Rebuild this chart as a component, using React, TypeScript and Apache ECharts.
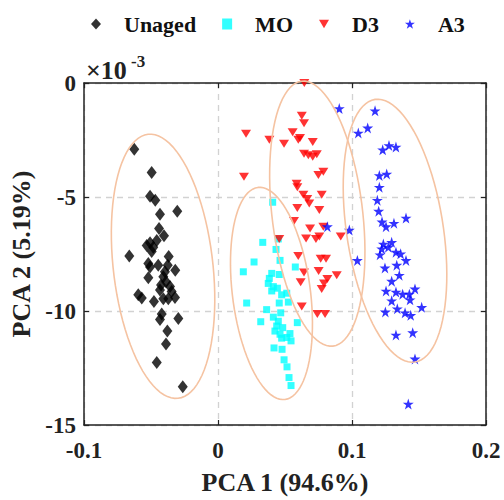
import React, { useEffect, useRef } from "react";
import * as echarts from "echarts";

// PCA scores (PCA 2 in units of 1e-3)
const unagedX = [-0.0625, -0.0495, -0.0507, -0.0468, -0.0304, -0.0433, -0.044, -0.0403, -0.0457, -0.0507, -0.0483, -0.0532, -0.0662, -0.0495, -0.0368, -0.052, -0.0446, -0.0375, -0.0507, -0.0319, -0.0396, -0.052, -0.0408, -0.0388, -0.0425, -0.0358, -0.0433, -0.0346, -0.0595, -0.0569, -0.0478, -0.0408, -0.0371, -0.0321, -0.042, -0.0433, -0.0296, -0.0378, -0.0388, -0.0457, -0.0263];
const unagedY = [-2.91, -3.93, -4.97, -5.14, -5.63, -5.76, -6.38, -6.7, -6.91, -7.01, -7.2, -7.13, -7.59, -7.39, -7.61, -7.92, -7.99, -7.99, -8.07, -8.21, -8.28, -8.54, -8.5, -8.72, -8.86, -8.93, -9.08, -9.15, -9.29, -9.43, -9.58, -9.46, -9.46, -9.41, -10.13, -10.37, -10.33, -10.88, -11.45, -12.26, -13.32];

const moX = [0.0408, 0.0334, 0.045, 0.0433, 0.0269, 0.0463, 0.0189, 0.0577, 0.0401, 0.0383, 0.0457, 0.0375, 0.0413, 0.0443, 0.0401, 0.0513, 0.0475, 0.0214, 0.0457, 0.0525, 0.0363, 0.0468, 0.0413, 0.0319, 0.045, 0.0592, 0.0438, 0.0483, 0.0425, 0.0463, 0.0537, 0.0513, 0.0475, 0.0545, 0.0418, 0.0478, 0.0493, 0.0515, 0.053, 0.0545];
const moY = [-5.23, -6.99, -6.84, -7.3, -7.85, -7.78, -8.28, -8.07, -8.35, -8.57, -8.4, -8.79, -8.93, -9.0, -9.12, -9.22, -9.29, -9.65, -9.65, -9.61, -9.94, -10.08, -10.27, -10.47, -10.45, -10.51, -10.66, -10.73, -10.88, -11.02, -10.99, -11.16, -11.19, -11.31, -11.62, -11.68, -12.14, -12.45, -12.92, -13.27];

const d3X = [0.0644, 0.0625, 0.0642, 0.0209, 0.0383, 0.0493, 0.0557, 0.0612, 0.0599, 0.0707, 0.0642, 0.0674, 0.0707, 0.0737, 0.0786, 0.0749, 0.0194, 0.0587, 0.0592, 0.0637, 0.0666, 0.0774, 0.0681, 0.0592, 0.0756, 0.0567, 0.0687, 0.0786, 0.0657, 0.0731, 0.0756, 0.0916, 0.0457, 0.0599, 0.0766, 0.0806, 0.0642, 0.0751, 0.0816, 0.0886, 0.0617, 0.0791, 0.0774, 0.0625, 0.0741, 0.0799];
const d3Y = [0.0, -1.44, -1.77, -2.23, -2.49, -2.66, -2.16, -2.41, -2.49, -2.59, -3.1, -3.17, -3.24, -3.12, -3.89, -4.03, -4.11, -4.42, -4.57, -4.9, -5.09, -4.9, -5.29, -5.48, -5.57, -6.05, -6.38, -6.3, -6.82, -6.84, -6.73, -6.73, -6.84, -7.59, -7.71, -7.71, -8.31, -8.25, -8.6, -8.43, -8.74, -8.79, -9.03, -9.8, -10.13, -10.13];

const a3X = [0.0905, 0.1172, 0.1047, 0.1117, 0.1229, 0.1276, 0.1328, 0.1204, 0.1259, 0.1204, 0.1189, 0.1199, 0.1224, 0.1313, 0.1254, 0.1403, 0.098, 0.0816, 0.1234, 0.1296, 0.1222, 0.1271, 0.1209, 0.1328, 0.1363, 0.1334, 0.1403, 0.104, 0.1246, 0.1353, 0.1296, 0.1254, 0.1328, 0.1378, 0.1428, 0.147, 0.1433, 0.1296, 0.1249, 0.1338, 0.1396, 0.1438, 0.152, 0.1328, 0.1453, 0.147, 0.142];
const a3Y = [-1.12, -1.22, -2.19, -1.97, -2.93, -2.74, -2.81, -4.06, -3.99, -4.57, -5.14, -5.62, -6.09, -6.15, -6.3, -5.92, -6.45, -6.3, -7.06, -6.99, -7.27, -7.2, -7.53, -7.42, -7.49, -7.99, -7.78, -7.78, -8.11, -8.43, -8.69, -9.12, -9.17, -9.26, -9.26, -9.03, -9.51, -9.55, -10.04, -9.9, -10.08, -10.19, -9.84, -11.05, -10.95, -12.1, -14.08];

// confidence ellipses: centre x, centre y, major half-axis offset dx, dy, minor/major ratio
const ellCx = [-0.041, 0.0399, 0.0741, 0.1321];
const ellCy = [-8.04, -9.23, -5.73, -6.48];
const ellDx = [-0.0112, -0.0101, -0.01164, -0.0149];
const ellDy = [5.79, 4.65, 5.81, 5.76];
const ellRatio = [0.375, 0.365, 0.34, 0.364];

const seriesNames = ["Unaged", "MO", "D3", "A3"];
const xTicks = [-0.1, 0, 0.1, 0.2];
const yTicks = [-15, -10, -5, 0];

const FONT = "'Liberation Serif', 'Times New Roman', serif";
const TRI_DOWN = "path://M0,0L10,0L5,8.66Z";
const STAR = "path://M50,0L61.2,34.5L97.6,34.5L68.2,55.9L79.4,90.5L50,69.1L20.6,90.5L31.8,55.9L2.4,34.5L38.8,34.5Z";

function zip(xs: number[], ys: number[]) {
  return xs.map((x, i) => [x, ys[i]]);
}

export default function App() {
  const ref = useRef<HTMLDivElement>(null);
  useEffect(() => {
    if (!ref.current) return;
    const chart = echarts.init(ref.current, null, { renderer: "svg" });
    const ellData = ellCx.map((cx, i) => [cx, ellCy[i], ellDx[i], ellDy[i], ellRatio[i]]);
    const tickFmt = (v: number) => String(Number(v.toFixed(2)));
    const labelStyle = { fontFamily: FONT, fontWeight: "bold" as const, fontSize: 23, color: "#222" };
    const axisLine = { show: true, onZero: false, lineStyle: { color: "#222", width: 1.5 } };
    const axisTick = { show: true, inside: true, length: 5, lineStyle: { color: "#222", width: 1.2 } };
    const splitLine = { show: true, lineStyle: { color: "#d2d2d2", type: [6, 5] as any, width: 1.3 } };
    chart.setOption({
      animation: false,
      backgroundColor: "#fff",
      grid: { left: 84, top: 83, width: 402, height: 349, containLabel: false },
      legend: {
        top: 8,
        left: 86,
        itemWidth: 10,
        itemHeight: 11,
        itemGap: 26,
        selectedMode: false,
        textStyle: { fontFamily: FONT, fontWeight: "bold", fontSize: 22, color: "#111", padding: [0, 0, 0, 18] },
        data: [
          { name: "Unaged", icon: "diamond" },
          { name: "MO", icon: "rect" },
          { name: "D3", icon: TRI_DOWN },
          { name: "A3", icon: STAR },
        ],
      },
      xAxis: [
        {
          type: "value",
          min: xTicks[0],
          max: xTicks[xTicks.length - 1],
          interval: 0.1,
          position: "bottom",
          name: "PCA 1 (94.6%)",
          nameLocation: "middle",
          nameGap: 44,
          nameTextStyle: { fontFamily: FONT, fontWeight: "bold", fontSize: 26, color: "#222" },
          axisLine,
          axisTick,
          axisLabel: { ...labelStyle, margin: 14, formatter: tickFmt },
          splitLine,
        },
        {
          type: "value",
          min: xTicks[0],
          max: xTicks[xTicks.length - 1],
          interval: 0.1,
          position: "top",
          axisLine,
          axisTick,
          axisLabel: { show: false },
          splitLine: { show: false },
        },
      ],
      yAxis: [
        {
          type: "value",
          min: yTicks[0],
          max: yTicks[yTicks.length - 1],
          interval: 5,
          position: "left",
          name: "PCA 2 (5.19%)",
          nameLocation: "middle",
          nameGap: 42,
          nameTextStyle: { fontFamily: FONT, fontWeight: "bold", fontSize: 26, color: "#222" },
          axisLine,
          axisTick,
          axisLabel: { ...labelStyle, margin: 8, formatter: tickFmt },
          splitLine,
        },
        {
          type: "value",
          min: yTicks[0],
          max: yTicks[yTicks.length - 1],
          interval: 5,
          position: "right",
          axisLine,
          axisTick,
          axisLabel: { show: false },
          splitLine: { show: false },
        },
      ],
      graphic: [
        { type: "text", left: 86, top: 57, style: { text: "×10", fontFamily: FONT, fontWeight: "bold", fontSize: 26, fill: "#222" } },
        { type: "text", left: 131, top: 53, style: { text: "-3", fontFamily: FONT, fontWeight: "bold", fontSize: 17, fill: "#222" } },
      ],
      series: [
        {
          name: seriesNames[0],
          type: "scatter",
          data: zip(unagedX, unagedY),
          symbol: "diamond",
          symbolSize: [10, 13],
          itemStyle: { color: "#000" },
          z: 2,
        },
        {
          name: seriesNames[1],
          type: "scatter",
          data: zip(moX, moY),
          symbol: "rect",
          symbolSize: 7,
          itemStyle: { color: "#00ffff" },
          z: 2,
        },
        {
          name: seriesNames[2],
          type: "scatter",
          data: zip(d3X, d3Y),
          symbol: TRI_DOWN,
          symbolSize: [10, 8],
          itemStyle: { color: "#ff0000" },
          z: 2,
        },
        {
          name: seriesNames[3],
          type: "scatter",
          data: zip(a3X, a3Y),
          symbol: STAR,
          symbolSize: 11,
          itemStyle: { color: "#0000ff" },
          z: 2,
        },
        {
          name: "ellipses",
          type: "custom",
          data: ellData,
          encode: { x: 0, y: 1 },
          z: 3,
          silent: true,
          renderItem: (params: any, api: any) => {
            const cx = api.value(0);
            const cy = api.value(1);
            const dx = api.value(2);
            const dy = api.value(3);
            const r = api.value(4);
            const c = api.coord([cx, cy]);
            const p = api.coord([cx + dx, cy + dy]);
            const ux = p[0] - c[0];
            const uy = p[1] - c[1];
            const vx = -uy * r;
            const vy = ux * r;
            const pts: number[][] = [];
            const n = 90;
            for (let k = 0; k < n; k++) {
              const t = (k / n) * Math.PI * 2;
              pts.push([c[0] + ux * Math.cos(t) + vx * Math.sin(t), c[1] + uy * Math.cos(t) + vy * Math.sin(t)]);
            }
            return {
              type: "polygon",
              shape: { points: pts },
              style: { fill: "none", stroke: "#f5c3a2", lineWidth: 1.6 },
            };
          },
        },
      ],
    });
    return () => chart.dispose();
  }, []);
  return <div ref={ref} style={{ width: 504, height: 500, position: "absolute", left: 0, top: 0 }} />;
}
